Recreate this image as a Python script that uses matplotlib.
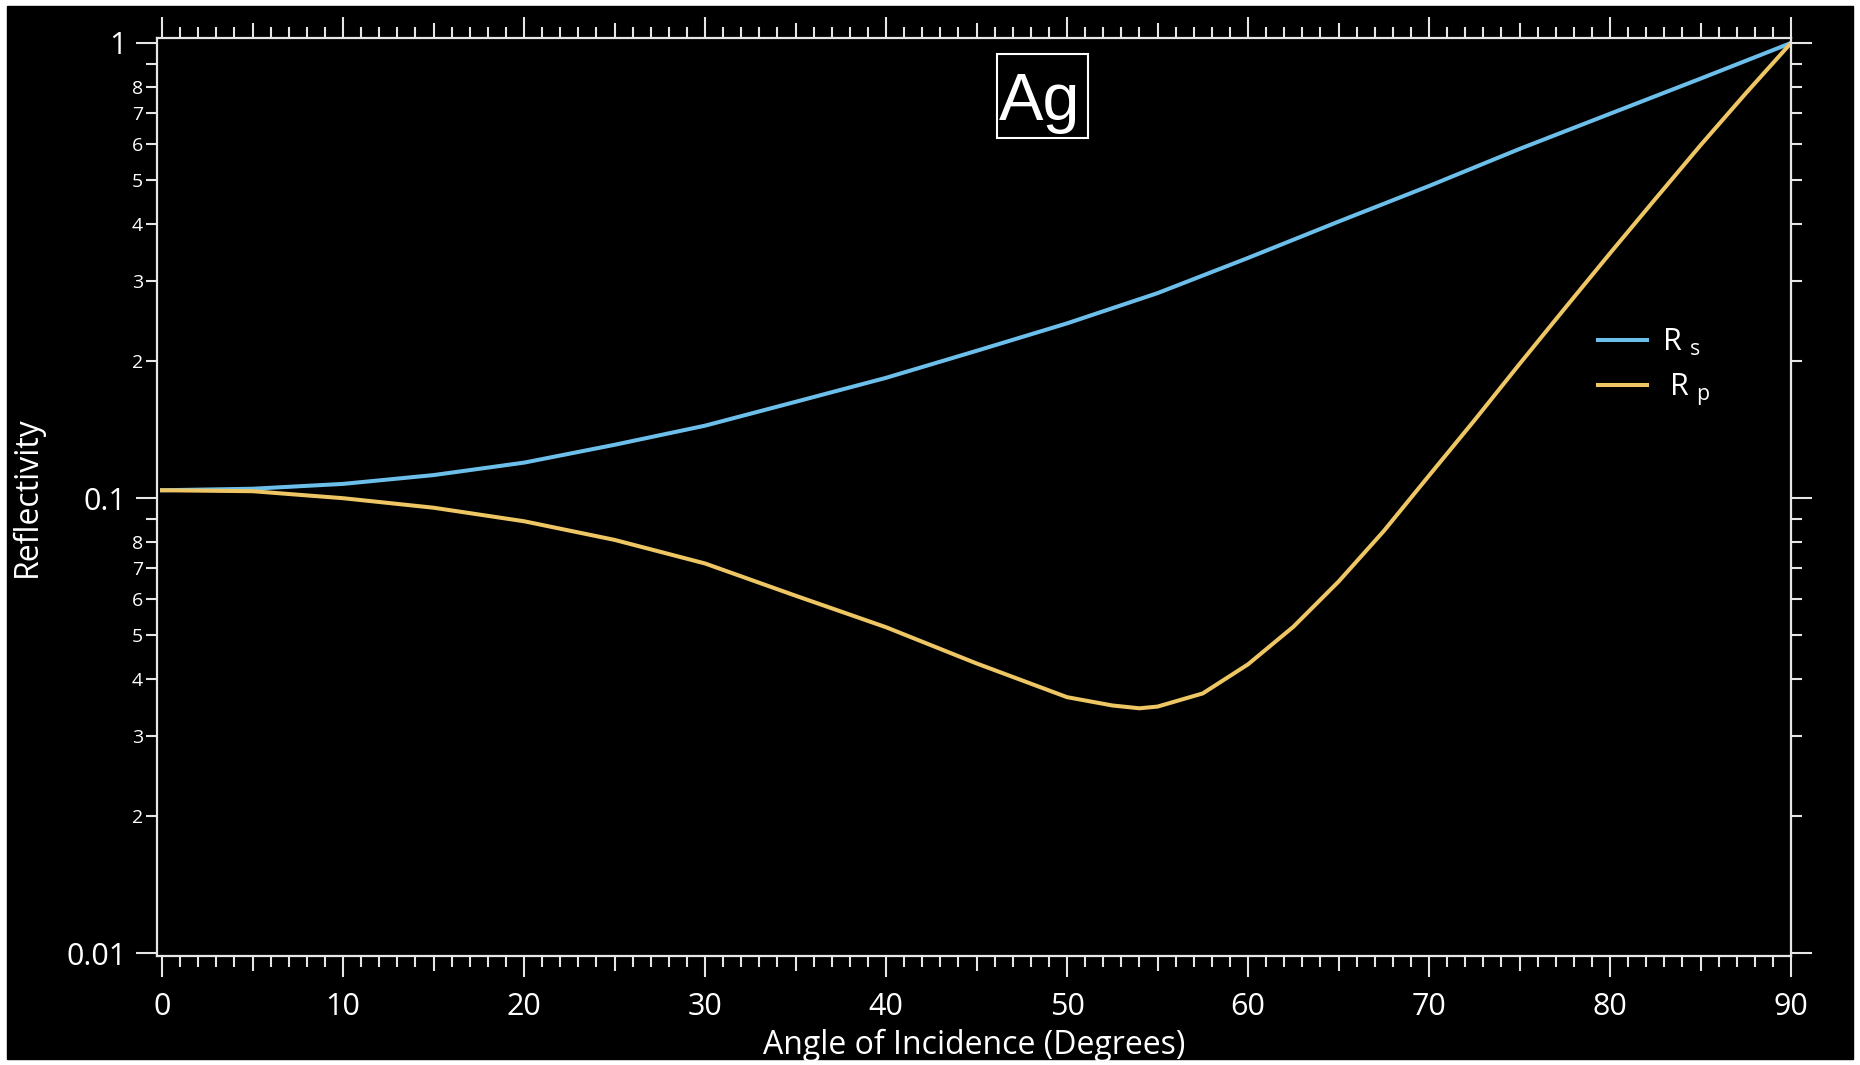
import matplotlib
matplotlib.use('Agg')
import matplotlib.pyplot as plt
from matplotlib.patches import Rectangle
from matplotlib.ticker import LogLocator, FuncFormatter, NullFormatter
import numpy as np

# values (angle in degrees, reflectivity)
angle_s = [0, 5, 10, 15, 20, 25, 30, 35, 40, 45, 50, 55, 60, 65, 70, 75, 80, 85, 90]
rs = [0.104, 0.1048, 0.1074, 0.1123, 0.1196, 0.1309, 0.1442, 0.1627, 0.1837, 0.2106,
      0.242, 0.282, 0.337, 0.405, 0.485, 0.585, 0.699, 0.835, 1.0]

angle_p = [0, 5, 10, 15, 20, 25, 30, 35, 40, 45, 50, 52.5, 54, 55, 57.5, 60, 62.5, 65,
           67.5, 70, 72.5, 75, 77.5, 80, 82.5, 85, 87.5, 90]
rp = [0.104, 0.1035, 0.0999, 0.0952, 0.0889, 0.0809, 0.0718, 0.0610, 0.0520, 0.0433,
      0.0365, 0.0350, 0.0345, 0.0348, 0.0372, 0.0431, 0.0521, 0.0655, 0.0846, 0.112,
      0.148, 0.197, 0.261, 0.345, 0.454, 0.596, 0.775, 1.0]

x_major = [0, 10, 20, 30, 40, 50, 60, 70, 80, 90]
x_mid = [5, 15, 25, 35, 45, 55, 65, 75, 85]
x_minor = [i for i in range(0, 91) if i % 5 != 0]

title = 'Ag'
xlabel = 'Angle of Incidence (Degrees)'
ylabel = 'Reflectivity'
labels = ['R $_\\mathregular{s}$', ' R $_\\mathregular{p}$']

blue = '#6DBFEB'
yellow = '#EEC764'
fg = '#E6E6E6'

plt.rcParams['font.family'] = ['Open Sans', 'DejaVu Sans']

fig = plt.figure(figsize=(18.6, 10.65), dpi=100, facecolor='white')
fig.patches.append(Rectangle((7 / 1860, 6 / 1065), 1846 / 1860, 1053 / 1065,
                             transform=fig.transFigure, color='black', zorder=-10))

ax = fig.add_axes([157 / 1860, 109 / 1065, 1634 / 1860, 918 / 1065])
ax.set_facecolor('black')

ax.plot(angle_s, rs, color=blue, lw=2.9, label=labels[0], solid_joinstyle='round')
ax.plot(angle_p, rp, color=yellow, lw=2.9, label=labels[1], solid_joinstyle='round')

ax.set_yscale('log')
ax.set_xlim(-0.28, 90)
ax.set_ylim(0.00985, 1.0256)

# medium ticks at the fives, on a twin axis
ax2 = ax.twiny()
ax2.set_xlim(ax.get_xlim())
ax2.set_xticks(x_mid)
ax2.tick_params(axis='x', direction='out', length=11, width=1.5, colors=fg,
                top=True, bottom=True, labeltop=False, labelbottom=False)
for s in ax2.spines.values():
    s.set_visible(False)

for s in ax.spines.values():
    s.set_color(fg)
    s.set_linewidth(1.6)

ax.set_xticks(x_major)
ax.set_xticks(x_minor, minor=True)
ax.xaxis.set_minor_formatter(NullFormatter())

ax.yaxis.set_major_locator(LogLocator(base=10, numticks=10))
ax.yaxis.set_minor_locator(LogLocator(base=10, subs=np.arange(2, 10), numticks=20))


def major_fmt(v, pos):
    return {0.01: '0.01', 0.1: '0.1', 1.0: '1'}.get(round(v, 4), '')


def minor_fmt(v, pos):
    m = int(round(v / 10 ** np.floor(np.log10(v) + 1e-9)))
    return str(m) if 2 <= m <= 8 else ''


ax.yaxis.set_major_formatter(FuncFormatter(major_fmt))
ax.yaxis.set_minor_formatter(FuncFormatter(minor_fmt))

ax.tick_params(axis='both', which='both', direction='out', colors=fg,
               top=True, bottom=True, left=True, right=True,
               labeltop=False, labelright=False)
ax.tick_params(axis='x', which='major', length=15, width=1.5, labelsize=22, pad=11,
               labelcolor='white')
ax.tick_params(axis='x', which='minor', length=8, width=1.5)
ax.tick_params(axis='y', which='major', length=15, width=1.5, labelsize=22, pad=7,
               labelcolor='white')
ax.tick_params(axis='y', which='minor', length=8, width=1.5, labelsize=14, pad=2,
               labelcolor='white')

ax.set_xlabel(xlabel, color='white', fontsize=23, labelpad=5)
ax.set_ylabel(ylabel, color='white', fontsize=23, labelpad=16)

ax.add_patch(Rectangle((0.514, 0.891), 0.056, 0.0916, transform=ax.transAxes,
                       fc='black', ec='white', lw=1.5, zorder=5))
ax.text(0.5404, 0.9107, title, transform=ax.transAxes, ha='center', va='baseline',
        color='white', fontsize=48, family='Liberation Sans', zorder=6)

leg = ax.legend(loc='center left', bbox_to_anchor=(0.882, 0.641), frameon=False,
                fontsize=22, borderpad=0, borderaxespad=0, handlelength=1.6,
                handletextpad=0.5, labelspacing=0.45)
for t in leg.get_texts():
    t.set_color('white')

fig.savefig('out.png', dpi=100, facecolor=fig.get_facecolor())
